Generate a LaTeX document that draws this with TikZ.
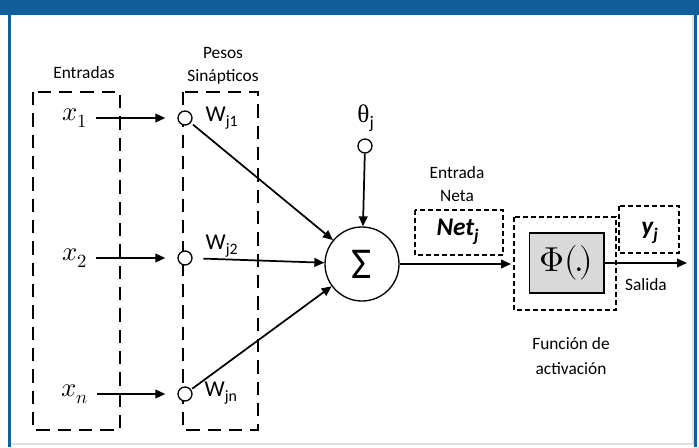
\documentclass[tikz,border=0pt]{standalone}
\usepackage{fontspec}
\usepackage{unicode-math}
\setmainfont{Carlito}
\setmathfont{Latin Modern Math}
\newfontfamily\greekserif{Liberation Serif}
\usetikzlibrary{arrows.meta}
\definecolor{barblue}{RGB}{17,94,156}
\definecolor{phigray}{RGB}{217,217,217}
\definecolor{edgegray}{RGB}{225,225,225}

\begin{document}
\begin{tikzpicture}[x=0.75pt,y=-0.75pt,
  heavydash/.style={line width=2.2pt, dash pattern=on 10pt off 6pt},
  lightdash/.style={line width=0.9pt, dash pattern=on 3.5pt off 2.5pt},
  wire/.style={line width=1.3pt},
  feed/.style={wire, -{Triangle[length=7.5pt,width=6.5pt]}},
  synapse/.style={circle, draw, line width=1pt, fill=white, minimum size=10.5pt, inner sep=0pt},
  small/.style={font=\fontsize{13}{17}\selectfont},
  mid/.style={font=\fontsize{17}{19}\selectfont},
  inlbl/.style={font=\fontsize{20}{22}\selectfont}]
\useasboundingbox (0,0) rectangle (699,447);
% frame
\fill[white] (0,0) rectangle (699,447);
\fill[barblue] (0,0) rectangle (699,15);
\fill[barblue] (8,15) rectangle (11,447);
\fill[barblue] (694,15) rectangle (697,447);
\draw[edgegray, line width=1pt] (11,444) -- (694,444);
\draw[edgegray, line width=0.8pt] (693,15) -- (693,444);

% dashed boxes
\draw[heavydash] (33,92) rectangle (120,430);
\draw[heavydash] (183,92) rectangle (258,430);
\draw[lightdash] (415,210) rectangle (503,255);
\draw[lightdash] (514,217) rectangle (616,310);
\draw[lightdash] (619,206) rectangle (679,253);

% labels
\node[small] (entradas) at (84,73) {Entradas};
\node[small, align=center] (pesos) at (223,66) {Pesos\\Sinápticos};
\node[small, align=center] (netlbl) at (457,184) {Entrada\\Neta};
\node[small] (salida) at (646,285) {Salida};
\node[small, align=center, font=\fontsize{13}{19}\selectfont] (actlbl) at (571,356) {Función de\\activación};

% inputs
\node[inlbl] (x1) at (75,118) {$x_1$};
\node[inlbl] (x2) at (75,258) {$x_2$};
\node[inlbl] (xn) at (75,394) {$x_n$};
\node[synapse] (s1) at (185,118) {};
\node[synapse] (s2) at (185,258) {};
\node[synapse] (sn) at (185,394) {};
\node[mid, anchor=west] (w1) at (201,118) {W\textsubscript{j1}};
\node[mid, anchor=west] (w2) at (201,246) {W\textsubscript{j2}};
\node[mid, anchor=west] (wn) at (200,393) {W\textsubscript{jn}};

% neuron
\node[circle, draw, line width=1pt, minimum size=55.5pt, inner sep=0pt,
  font=\fontsize{33}{35}\selectfont] (sum) at (362,264) {Σ};
\node[font=\fontsize{19}{21}\selectfont] (theta) at (366,118) {{\greekserif θ}\textsubscript{j}};
\node[synapse] (bias) at (365,146) {};
\node[font=\fontsize{19}{21}\selectfont\bfseries\itshape] (net) at (458,232) {Net\textsubscript{j}};
\node[draw, line width=1pt, fill=phigray, minimum width=56pt, minimum height=45pt,
  font=\fontsize{26}{28}\selectfont] (phi) at (566.5,263) {$\mupPhi\mathord{(}\mkern-2mu.\mkern-2mu\mathord{)}$};
\node[font=\fontsize{19}{21}\selectfont\bfseries\itshape] (yj) at (650,233) {y\textsubscript{j}};
\coordinate (actin) at (511,264);
\coordinate (out) at (687,263);

% connectors
\draw[feed, shorten <=3pt, shorten >=9pt] (x1) -- (s1);
\draw[feed, shorten <=3pt, shorten >=9pt] (x2) -- (s2);
\draw[feed, shorten <=3pt, shorten >=9pt] (xn) -- (sn);
\draw[feed, shorten <=2pt] (s1) -- (sum);
\draw[feed, shorten <=8pt] (s2) -- (sum);
\draw[feed, shorten <=1pt] (sn) -- (sum);
\draw[feed] (bias) -- (sum);
\draw[feed] (sum) -- (actin);
\draw[feed] (phi) -- (out);
\end{tikzpicture}
\end{document}
